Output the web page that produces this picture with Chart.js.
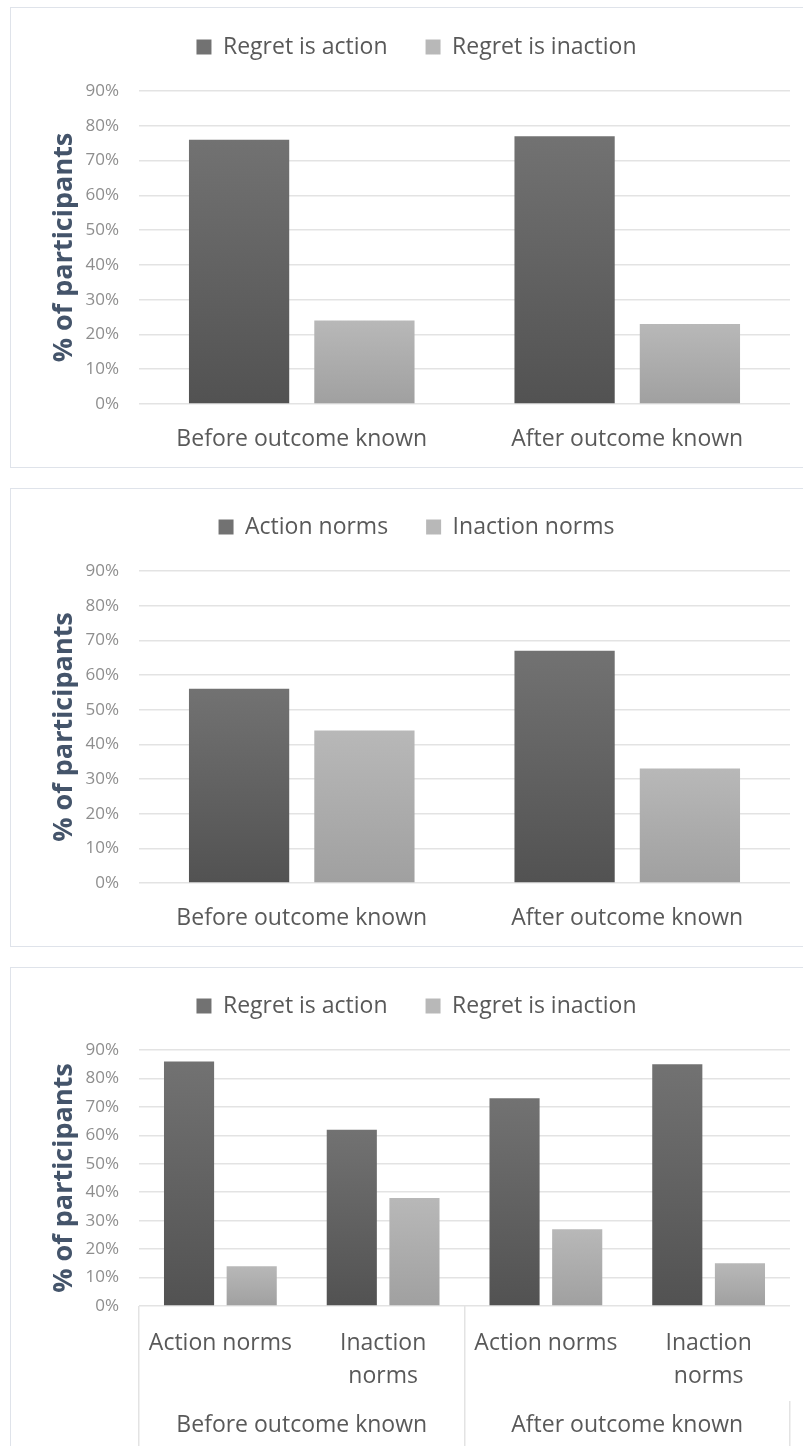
<!DOCTYPE html>
<html>
<head>
<meta charset="utf-8">
<script src="https://cdn.jsdelivr.net/npm/chart.js@4.4.0/dist/chart.umd.min.js"></script>
<style>
  body { margin: 0; background: #fff; width: 803px; height: 1446px; overflow: hidden; position: relative; }
  .box { position: absolute; left: 10px; width: 830px; border: 1px solid #dfe3ea; box-sizing: border-box; }
  .wrap { position: absolute; left: 11px; width: 798px; }
</style>
</head>
<body>
<div class="box" style="top:7px;height:461px"></div>
<div class="box" style="top:488px;height:459px"></div>
<div class="box" style="top:967px;height:500px"></div>
<div class="wrap" style="top:8px;height:460px"><canvas id="chart1"></canvas></div>
<div class="wrap" style="top:488px;height:458px"><canvas id="chart2"></canvas></div>
<div class="wrap" style="top:967px;height:479px"><canvas id="chart3"></canvas></div>
<script>
// Chart data
const outcomeGroups = ['Before outcome known', 'After outcome known'];
const normGroups = ['Action norms', ['Inaction', 'norms'], 'Action norms', ['Inaction', 'norms']];
const tickValues = [0, 10, 20, 30, 40, 50, 60, 70, 80, 90];

// Chart 1: regret by outcome knowledge
const regretAction1 = [76, 77];
const regretInaction1 = [24, 23];

// Chart 2: norms by outcome knowledge
const actionNorms2 = [56, 67];
const inactionNorms2 = [44, 33];

// Chart 3: regret by norms and outcome knowledge
const regretAction3 = [86, 62, 73, 85];
const regretInaction3 = [14, 38, 27, 15];

const FONT = "'Open Sans', sans-serif";
const GRID = '#e3e3e3';

// gradient per bar, lighter at the top
function barFill(top, bottom, flat) {
    return function(ctx) {
        const chart = ctx.chart;
        if (ctx.type !== 'data' || !chart.chartArea) return flat;
        const y = chart.scales.y;
        const g = chart.ctx.createLinearGradient(0, y.getPixelForValue(ctx.raw), 0, y.getPixelForValue(0));
        g.addColorStop(0, top);
        g.addColorStop(1, bottom);
        return g;
    };
}

function series(label, data, dark) {
    return {
        label: label,
        data: data,
        backgroundColor: dark ? barFill('#727272', '#525252', '#5a5a5a') : barFill('#b8b8b8', '#a0a0a0', '#a8a8a8'),
        borderWidth: 0,
        categoryPercentage: 0.77,
        barPercentage: 0.8
    };
}

// extra room under the legend
const legendGap = {
    id: 'legendGap',
    beforeInit(chart) {
        const fit = chart.legend.fit;
        chart.legend.fit = function() {
            fit.bind(chart.legend)();
            this.height += 22.5;
        };
    }
};

function yScale() {
    return {
        min: 0,
        max: 90,
        afterBuildTicks: s => { s.ticks = tickValues.map(v => ({ value: v })); },
        afterFit: s => { s.width = 96; },
        border: { display: false },
        grid: { color: GRID, lineWidth: 1.5, drawTicks: false },
        ticks: {
            padding: 20,
            color: '#8e8e8e',
            font: { family: FONT, size: 17 },
            callback: v => v + '%'
        },
        title: {
            display: true,
            text: '% of participants',
            color: '#44546a',
            font: { family: FONT, size: 27, weight: 'bold' },
            padding: { top: 5, bottom: 0 }
        }
    };
}

function baseOptions(scales) {
    return {
        responsive: true,
        maintainAspectRatio: false,
        animation: false,
        layout: { padding: { top: -10.5, right: 19, bottom: 0, left: 32 } },
        plugins: {
            legend: {
                position: 'top',
                labels: {
                    boxWidth: 15,
                    boxHeight: 15,
                    padding: 38,
                    color: '#595959',
                    font: { family: FONT, size: 23 }
                }
            },
            tooltip: { enabled: false }
        },
        scales: scales
    };
}

function simpleX(height) {
    return {
        afterFit: s => { s.height = height; },
        border: { display: false },
        grid: { display: false, drawTicks: false },
        ticks: {
            padding: 19,
            color: '#595959',
            autoSkip: false,
            maxRotation: 0,
            font: { family: FONT, size: 23, lineHeight: 1.43 }
        }
    };
}

new Chart(document.getElementById('chart1'), {
    type: 'bar',
    data: {
        labels: outcomeGroups,
        datasets: [series('Regret is action', regretAction1, true), series('Regret is inaction', regretInaction1, false)]
    },
    options: baseOptions({ x: simpleX(64), y: yScale() }),
    plugins: [legendGap]
});

new Chart(document.getElementById('chart2'), {
    type: 'bar',
    data: {
        labels: outcomeGroups,
        datasets: [series('Action norms', actionNorms2, true), series('Inaction norms', inactionNorms2, false)]
    },
    options: baseOptions({ x: simpleX(63), y: yScale() }),
    plugins: [legendGap]
});

// chart 3 has two rows of category labels with separator lines
new Chart(document.getElementById('chart3'), {
    type: 'bar',
    data: {
        labels: normGroups,
        datasets: [series('Regret is action', regretAction3, true), series('Regret is inaction', regretInaction3, false)]
    },
    options: baseOptions({
        x: {
            afterFit: s => { s.height = 95; },
            border: { display: false },
            grid: {
                offset: true,
                drawOnChartArea: false,
                drawTicks: true,
                tickLength: 95,
                lineWidth: 1.5,
                color: ctx => ctx.index % 2 === 0 ? GRID : 'rgba(0,0,0,0)'
            },
            ticks: {
                padding: -73.5,
                color: '#595959',
                autoSkip: false,
                maxRotation: 0,
                font: { family: FONT, size: 23, lineHeight: 1.43 }
            }
        },
        x2: {
            type: 'category',
            labels: outcomeGroups,
            position: 'bottom',
            offset: true,
            afterFit: s => { s.height = 45; },
            border: { display: false },
            grid: {
                offset: true,
                drawOnChartArea: false,
                drawTicks: true,
                tickLength: 45,
                lineWidth: 1.5,
                color: GRID
            },
            ticks: {
                padding: -36.5,
                color: '#595959',
                autoSkip: false,
                maxRotation: 0,
                font: { family: FONT, size: 23, lineHeight: 1.43 }
            }
        },
        y: yScale()
    }),
    plugins: [legendGap]
});
</script>
</body>
</html>
